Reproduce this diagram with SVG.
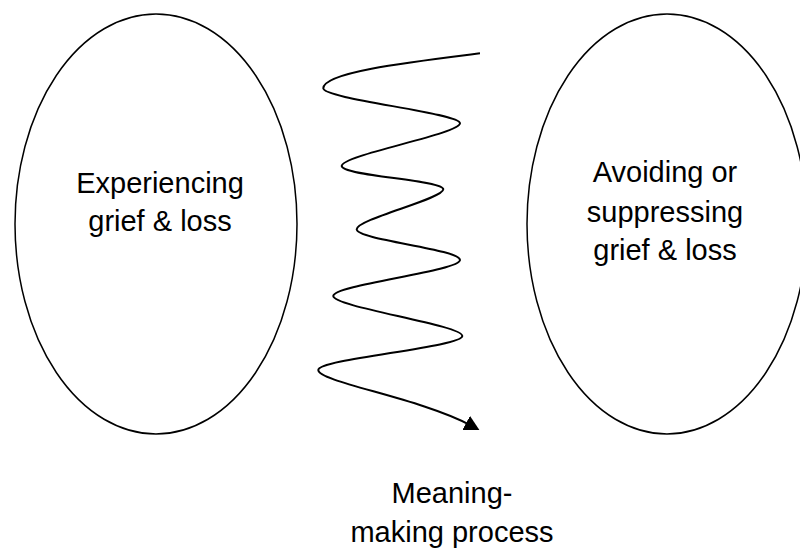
<svg xmlns="http://www.w3.org/2000/svg" width="800" height="548" viewBox="0 0 800 548">
  <style>
    .node { fill: #ffffff; stroke: #000000; stroke-width: 1.5; }
    .label { font-family: "Liberation Sans", Arial, sans-serif; font-size: 29px; fill: #000000; text-anchor: middle; }
    .wave { fill: none; stroke: #000000; stroke-width: 2; }
  </style>
  <defs>
    <marker id="arrow" viewBox="0 0 15 16" markerWidth="15" markerHeight="16" refX="5" refY="8" orient="auto" markerUnits="userSpaceOnUse">
      <path d="M0,0 L15,8 L0,16 z" fill="#000000"/>
    </marker>
  </defs>
  <rect width="800" height="548" fill="#ffffff"/>
  <g id="experiencing">
    <ellipse class="node" cx="156" cy="224" rx="141" ry="210"/>
    <text class="label" x="160" y="193">Experiencing</text>
    <text class="label" x="160" y="231">grief &amp; loss</text>
  </g>
  <g id="avoiding">
    <ellipse class="node" cx="667" cy="224" rx="140" ry="210"/>
    <text class="label" x="665" y="182">Avoiding or</text>
    <text class="label" x="665" y="222">suppressing</text>
    <text class="label" x="665" y="260">grief &amp; loss</text>
  </g>
  <g id="connectors">
    <path class="wave" marker-end="url(#arrow)" d="M480,53.3 C410,62 323.3,72 323.3,88.3 C323.3,99 460,113 460,123.3 C460,134 341.7,155 341.7,166 C341.7,176 443.3,180 443.3,189.3 C443.3,199 356.7,219 356.7,229.3 C356.7,240 460,249 460,260 C460,271 333.3,285 333.3,296 C333.3,307 462.3,325 462.3,336 C462.3,347 318.3,359 318.3,370 C318.3,382 420,398 470.6,425.3"/>
  </g>
  <g id="meaning-making">
    <text class="label" x="452" y="503">Meaning-</text>
    <text class="label" x="452" y="542">making process</text>
  </g>
</svg>
